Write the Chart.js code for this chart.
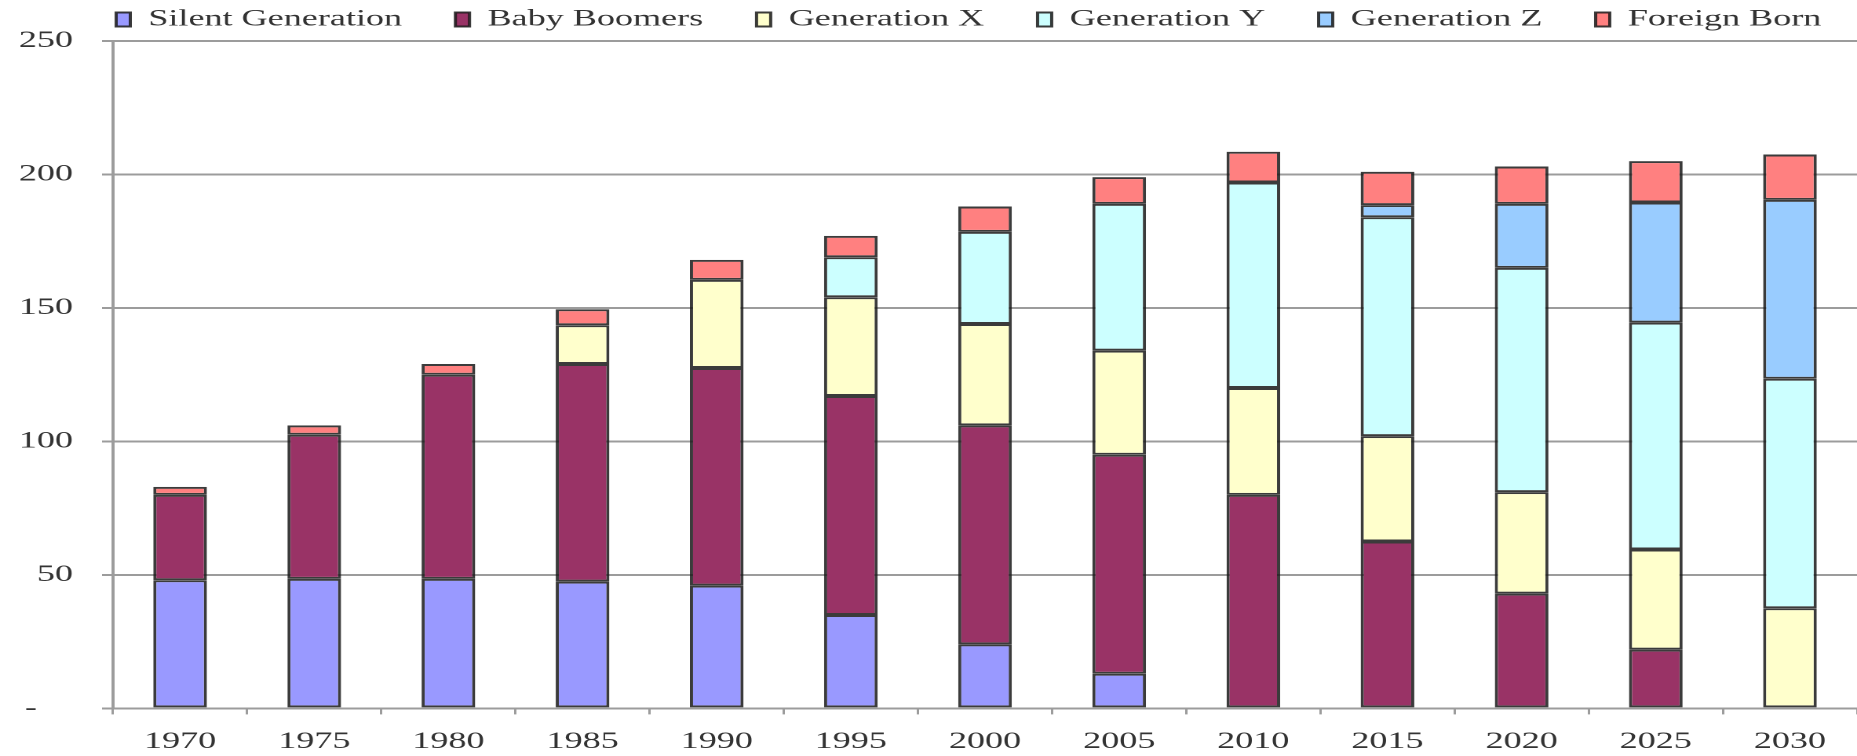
<!DOCTYPE html>
<html>
<head>
<meta charset="utf-8">
<script src="https://cdn.jsdelivr.net/npm/chart.js@4/dist/chart.umd.min.js"></script>
<style>
  html, body { margin: 0; padding: 0; background: #ffffff; overflow: hidden; }
</style>
</head>
<body>
<canvas id="chart" width="1183" height="756" style="display:block;width:1857px;height:756px;"></canvas>
<script>
// Population by generation, millions
const years = ['1970', '1975', '1980', '1985', '1990', '1995', '2000', '2005', '2010', '2015', '2020', '2025', '2030'];
const silentGeneration = [48, 48.5, 48.5, 47.5, 46, 35, 24, 13, 0, 0, 0, 0, 0];
const babyBoomers      = [32, 54, 76.5, 81.5, 81.5, 82, 82, 82, 80, 62.5, 43, 22, 0];
const generationX      = [0, 0, 0, 14.5, 33, 37, 38, 39, 40, 39.5, 38, 37.5, 37.5];
const generationY      = [0, 0, 0, 0, 0, 15, 34.5, 55, 77, 82, 84, 85, 86];
const generationZ      = [0, 0, 0, 0, 0, 0, 0, 0, 0, 4.5, 24, 45, 67];
const foreignBorn      = [3, 3.5, 4, 6, 7.5, 8, 9.5, 10, 11.5, 12.5, 14, 15.5, 17];
const yStep = 50;
const yMax = 250;

const seriesNames = ['Silent Generation', 'Baby Boomers', 'Generation X', 'Generation Y', 'Generation Z', 'Foreign Born'];
const seriesValues = [silentGeneration, babyBoomers, generationX, generationY, generationZ, foreignBorn];
const fills = ['#9999ff', '#993366', '#ffffcc', '#ccffff', '#99ccff', '#ff8080'];

const font = { family: "'Liberation Serif', 'Times New Roman', serif", size: 23 };
const textColor = '#333333';
const gridColor = '#9c9c9c';

// Legend row starts just right of the value axis rather than at the canvas edge
const legendOffset = {
  id: 'legendOffset',
  afterLayout(chart) {
    const legend = chart.legend;
    if (!legend) return;
    legend.left = 40;
    legend.right = chart.width + 200;
  }
};

new Chart(document.getElementById('chart'), {
  type: 'bar',
  data: {
    labels: years,
    datasets: seriesNames.map((name, i) => ({
      label: name,
      data: seriesValues[i],
      backgroundColor: fills[i],
      borderColor: 'rgba(25,25,25,0.85)',
      borderWidth: 2,
      borderSkipped: false,
      categoryPercentage: 1,
      barPercentage: 0.4
    }))
  },
  plugins: [legendOffset],
  options: {
    responsive: false,
    devicePixelRatio: 2,
    animation: false,
    events: [],
    layout: { padding: { left: 0, right: 0, top: -26, bottom: -14 } },
    plugins: {
      tooltip: { enabled: false },
      legend: {
        position: 'top',
        align: 'start',
        labels: {
          font: font,
          color: textColor,
          boxWidth: 9,
          boxHeight: 14,
          padding: 34
        }
      }
    },
    scales: {
      x: {
        stacked: true,
        offset: true,
        grid: {
          display: true,
          drawOnChartArea: false,
          drawTicks: true,
          tickLength: 6,
          offset: true,
          color: gridColor,
          lineWidth: 1.5
        },
        border: { display: true, color: gridColor, width: 2 },
        ticks: { font: font, color: textColor, padding: 14, maxRotation: 0, autoSkip: false }
      },
      y: {
        stacked: true,
        min: 0,
        max: yMax,
        afterFit: (scale) => { scale.width = 72; },
        grid: {
          color: gridColor,
          lineWidth: 2,
          tickLength: 7,
          drawTicks: true
        },
        border: { display: true, color: gridColor, width: 2 },
        ticks: {
          stepSize: yStep,
          font: font,
          color: textColor,
          padding: 18.5,
          callback: (v) => (v === 0 ? '-    ' : String(v))
        }
      }
    }
  }
});
</script>
</body>
</html>
